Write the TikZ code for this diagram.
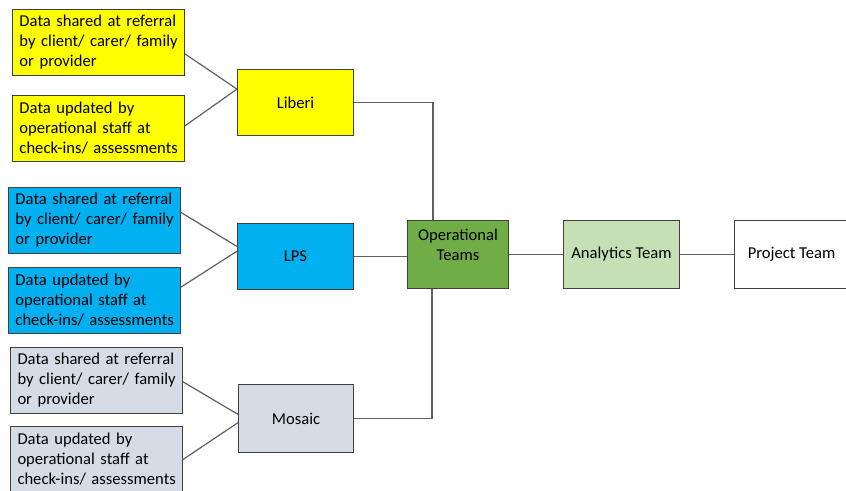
\documentclass[tikz,border=0pt]{standalone}
\usepackage{fontspec}
\setmainfont{Carlito}
\usetikzlibrary{calc}
\definecolor{ylw}{HTML}{FFFF00}
\definecolor{blu}{HTML}{00B0F0}
\definecolor{gry}{HTML}{D6DCE5}
\definecolor{opg}{HTML}{70AD47}
\definecolor{ang}{HTML}{C5E0B4}
\definecolor{edge}{HTML}{404040}
\definecolor{conn}{HTML}{606060}
\tikzset{
  box/.style={draw=edge, line width=1pt, rectangle, anchor=north west, inner sep=0pt,
    font=\fontsize{16.6}{20}\selectfont},
  srcbox/.style={box, minimum width=172pt, minimum height=66pt, text width=158pt, align=left},
  sysbox/.style={box, minimum width=116pt, minimum height=66pt, align=center},
  link/.style={draw=conn, line width=1.2pt}
}
\newcommand{\shared}{\mbox{Data shared at referral}\\\mbox{by client/ carer/ family}\\\mbox{or provider}}
\newcommand{\updated}{\mbox{Data updated by}\\\mbox{operational staff at}\\\mbox{check-ins/ assessments}}
\begin{document}
\begin{tikzpicture}[x=1pt,y=1pt]
\useasboundingbox (0,0) rectangle (846,-490);
% Liberi group
\node[srcbox, fill=ylw] (y1) at (12,-9) {\shared};
\node[srcbox, fill=ylw] (y2) at (12,-95) {\updated};
\node[sysbox, fill=ylw] (lib) at (237,-69) {Liberi};
% LPS group
\node[srcbox, fill=blu] (b1) at (8,-187) {\shared};
\node[srcbox, fill=blu] (b2) at (8,-267) {\updated};
\node[sysbox, fill=blu] (lps) at (237,-223) {LPS};
% Mosaic group
\node[srcbox, fill=gry] (g1) at (10,-347) {\shared};
\node[srcbox, fill=gry] (g2) at (10,-426) {\updated};
\node[sysbox, fill=gry, minimum width=115pt, minimum height=68pt] (mos) at (238,-384) {Mosaic};
% teams
\node[box, fill=opg, minimum width=101pt, minimum height=68pt, align=center] (ops) at (407,-220) {Operational\\Teams\\\mbox{}};
\node[box, fill=ang, minimum width=116pt, minimum height=68pt, align=center] (ana) at (563,-220) {Analytics Team};
\node[box, fill=white, minimum width=114pt, minimum height=68pt, align=center] (prj) at (734,-220) {Project Team};
% connectors to systems
\draw[link] ($(y1.north east)!0.67!(y1.south east)$) -- ($(lib.north west)!0.3!(lib.south west)$);
\draw[link] ($(y2.north east)!0.46!(y2.south east)$) -- ($(lib.north west)!0.3!(lib.south west)$);
\draw[link] ($(b1.north east)!0.38!(b1.south east)$) -- ($(lps.north west)!0.35!(lps.south west)$);
\draw[link] ($(b2.north east)!0.3!(b2.south east)$) -- ($(lps.north west)!0.42!(lps.south west)$);
\draw[link] ($(g1.north east)!0.52!(g1.south east)$) -- ($(mos.north west)!0.44!(mos.south west)$);
\draw[link] ($(g2.north east)!0.5!(g2.south east)$) -- ($(mos.north west)!0.56!(mos.south west)$);
% systems to operational teams
\draw[link] (lib.east) -| (ops.north -| 433,0);
\draw[link] (lps.east) -- (ops.west |- lps.east);
\draw[link] (mos.east) -| (ops.south -| 432,0);
% teams chain
\draw[link] (ops.east) -- (ana.west);
\draw[link] (ana.east) -- (prj.west);
\end{tikzpicture}
\end{document}
